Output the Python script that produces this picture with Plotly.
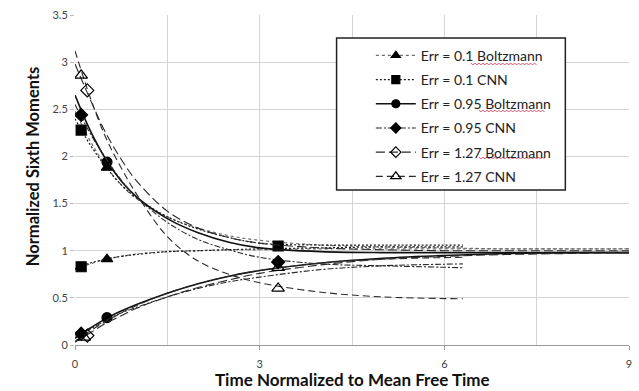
import plotly.graph_objects as go

# ---------------- data ----------------
x_boltz = [0, 0.25, 0.5, 0.75, 1, 1.5, 2, 2.5, 3, 4, 5, 6, 7, 8, 9]
x_cnn = [0, 0.25, 0.5, 0.75, 1, 1.5, 2, 2.5, 3, 4, 5, 6.3]

# decreasing branches
err01_boltz_hi = [2.48, 2.16, 1.90, 1.70, 1.55, 1.36, 1.24, 1.16, 1.11, 1.06, 1.04, 1.03, 1.02, 1.02, 1.02]
err01_cnn_hi = [2.40, 2.12, 1.89, 1.70, 1.56, 1.36, 1.23, 1.14, 1.08, 1.06, 1.06, 1.06]
err095_boltz_hi = [2.65, 2.27, 1.97, 1.74, 1.57, 1.34, 1.19, 1.09, 1.03, 0.99, 0.98, 0.98, 0.98, 0.98, 0.98]
err095_cnn_hi = [2.55, 2.24, 1.98, 1.75, 1.57, 1.30, 1.12, 1.01, 0.93, 0.86, 0.84, 0.82]
err127_boltz_hi = [2.98, 2.60, 2.25, 1.97, 1.74, 1.42, 1.24, 1.14, 1.08, 1.03, 1.01, 1.00, 1.00, 1.00, 1.00]
err127_cnn_hi = [3.12, 2.62, 2.20, 1.88, 1.60, 1.15, 0.89, 0.75, 0.66, 0.56, 0.51, 0.49]

# increasing branches
err01_boltz_lo = [0.80, 0.86, 0.91, 0.94, 0.965, 0.99, 1.00, 1.01, 1.01, 1.02, 1.02, 1.02, 1.02, 1.02, 1.02]
err01_cnn_lo = [0.81, 0.87, 0.91, 0.94, 0.96, 0.99, 1.00, 1.01, 1.02, 1.03, 1.04, 1.04]
err095_boltz_lo = [0.07, 0.18, 0.28, 0.36, 0.43, 0.55, 0.65, 0.73, 0.79, 0.87, 0.92, 0.95, 0.97, 0.98, 0.98]
err095_cnn_lo = [0.08, 0.17, 0.26, 0.34, 0.40, 0.51, 0.60, 0.67, 0.72, 0.80, 0.84, 0.86]
err127_boltz_lo = [0.03, 0.13, 0.23, 0.31, 0.39, 0.51, 0.61, 0.69, 0.76, 0.85, 0.91, 0.94, 0.96, 0.97, 0.98]
err127_cnn_lo = [0.04, 0.15, 0.25, 0.34, 0.42, 0.55, 0.65, 0.73, 0.79, 0.87, 0.91, 0.93]

# sampled data points (markers)
pts01_boltz_x = [0.52, 0.52]
pts01_boltz_y = [1.88, 0.91]
pts01_cnn_x = [0.1, 0.1, 3.3]
pts01_cnn_y = [2.28, 0.83, 1.05]
pts095_boltz_x = [0.52, 0.52]
pts095_boltz_y = [1.94, 0.29]
pts095_cnn_x = [0.1, 0.1, 3.3]
pts095_cnn_y = [2.44, 0.12, 0.88]
pts127_boltz_x = [0.2, 0.2]
pts127_boltz_y = [2.70, 0.10]
pts127_cnn_x = [0.1, 0.15, 3.3, 3.3]
pts127_cnn_y = [2.86, 0.08, 0.60, 0.82]

names = ["Err = 0.1 Boltzmann", "Err = 0.1 CNN", "Err = 0.95 Boltzmann",
         "Err = 0.95 CNN", "Err = 1.27 Boltzmann", "Err = 1.27 CNN"]

series = [
    dict(name=names[0], x=x_boltz, hi=err01_boltz_hi, lo=err01_boltz_lo, px=pts01_boltz_x, py=pts01_boltz_y,
         dash="dot", color="#6e6e6e", width=1.2, symbol="triangle-up", size=10),
    dict(name=names[1], x=x_cnn, hi=err01_cnn_hi, lo=err01_cnn_lo, px=pts01_cnn_x, py=pts01_cnn_y,
         dash="2px,2px", color="#1a1a1a", width=1.2, symbol="square", size=10),
    dict(name=names[2], x=x_boltz, hi=err095_boltz_hi, lo=err095_boltz_lo, px=pts095_boltz_x, py=pts095_boltz_y,
         dash="solid", color="#111111", width=1.6, symbol="circle", size=10),
    dict(name=names[3], x=x_cnn, hi=err095_cnn_hi, lo=err095_cnn_lo, px=pts095_cnn_x, py=pts095_cnn_y,
         dash="6px,2px,2px,2px", color="#2a2a2a", width=1.1, symbol="diamond", size=10),
    dict(name=names[4], x=x_boltz, hi=err127_boltz_hi, lo=err127_boltz_lo, px=pts127_boltz_x, py=pts127_boltz_y,
         dash="9px,4px", color="#2a2a2a", width=1.1, symbol="diamond-open", size=10),
    dict(name=names[5], x=x_cnn, hi=err127_cnn_hi, lo=err127_cnn_lo, px=pts127_cnn_x, py=pts127_cnn_y,
         dash="7px,4px", color="#2a2a2a", width=1.1, symbol="triangle-up-open", size=11),
]

fig = go.Figure()
for i, s in enumerate(series):
    grp = f"g{i}"
    for branch in ("hi", "lo"):
        fig.add_trace(go.Scatter(
            x=s["x"], y=s[branch], mode="lines", legendgroup=grp, showlegend=False,
            line=dict(color=s["color"], width=s["width"], dash=s["dash"], shape="spline", smoothing=1.0),
            hoverinfo="skip"))
    fig.add_trace(go.Scatter(
        x=s["px"], y=s["py"], mode="markers", legendgroup=grp, showlegend=False,
        marker=dict(symbol=s["symbol"], size=s["size"], color="black",
                    line=dict(color="black", width=1.2))))
    # legend entry
    fig.add_trace(go.Scatter(
        x=[None], y=[None], mode="lines+markers", name=s["name"], legendgroup=grp, showlegend=True,
        line=dict(color=s["color"], width=s["width"], dash=s["dash"]),
        marker=dict(symbol=s["symbol"], size=s["size"] - 2, color="black",
                    line=dict(color="black", width=1.2))))

# spell-check style wavy underline under the word "Boltzmann" (decoration of the legend)
def wavy(x0_px, x1_px, y_px):
    pts = []
    xp = x0_px
    k = 0
    while xp <= x1_px:
        yp = y_px + (1.0 if k % 2 else -1.0)
        pts.append(((xp - 75) / 557, (345 - yp) / 330))
        xp += 2.0
        k += 1
    return "M" + " L".join(f"{a:.5f},{b:.5f}" for a, b in pts)

underline_rows = [(473, 539, 64), (481, 547, 111), (481, 547, 158)]

grid = "#d4d4d4"
shapes = [dict(type="rect", xref="paper", yref="paper",
               x0=(338 - 75) / 557, x1=(568 - 75) / 557,
               y0=(345 - 190) / 330, y1=(345 - 38) / 330,
               line=dict(color="#222222", width=1.5), fillcolor="white", layer="above")]
for (a, b, c) in underline_rows:
    shapes.append(dict(type="path", xref="paper", yref="paper", path=wavy(a, b, c),
                       line=dict(color="#e0506e", width=1), layer="above"))

fig.update_layout(
    width=639, height=391,
    margin=dict(l=75, r=7, t=15, b=46),
    paper_bgcolor="white", plot_bgcolor="white",
    font=dict(family="Lato, Carlito, sans-serif", color="#333333"),
    showlegend=True,
    legend=dict(x=0.534, y=0.925, xanchor="left", yanchor="top",
                bgcolor="rgba(0,0,0,0)", borderwidth=0,
                font=dict(size=14, color="#222222", family="Lato"),
                itemwidth=40, tracegroupgap=3, traceorder="grouped"),
    xaxis=dict(range=[0, 9], tickmode="linear", tick0=0, dtick=3,
               showgrid=True, gridcolor=grid, gridwidth=1,
               minor=dict(dtick=1.5, showgrid=True, gridcolor=grid, gridwidth=1),
               ticks="outside", ticklen=4, tickcolor="#999999",
               showline=True, linecolor="#9a9a9a", linewidth=1,
               zeroline=False, tickfont=dict(size=11, color="#444444"),
               ticklabelstandoff=5),
    yaxis=dict(range=[0, 3.5], tickmode="linear", tick0=0, dtick=0.5,
               showgrid=True, gridcolor=grid, gridwidth=1,
               ticks="outside", ticklen=4, tickcolor="#bbbbbb",
               showline=False, zeroline=False,
               tickfont=dict(size=11, color="#444444")),
    shapes=shapes,
    annotations=[
        dict(text="<b>Time Normalized to Mean Free Time</b>", xref="paper", yref="paper",
             x=0.5, y=(345 - 380) / 330, xanchor="center", yanchor="middle", showarrow=False,
             font=dict(size=17, color="#111111", family="Lato")),
        dict(text="<b>Normalized Sixth Moments</b>", xref="paper", yref="paper",
             x=(33 - 75) / 557, y=(345 - 166) / 330, xanchor="center", yanchor="middle",
             textangle=-90, showarrow=False,
             font=dict(size=16.5, color="#111111", family="Lato")),
    ],
)

fig.write_html("out.html")
